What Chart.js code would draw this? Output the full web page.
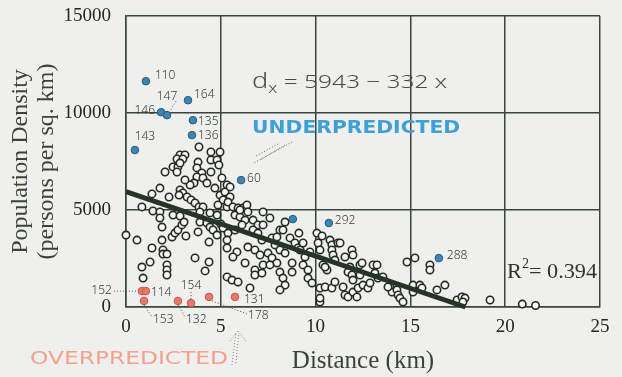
<!DOCTYPE html>
<html>
<head>
<meta charset="utf-8">
<script src="https://cdn.jsdelivr.net/npm/chart.js@4/dist/chart.umd.min.js"></script>
<style>
  html, body { margin: 0; padding: 0; background: #efefed; }
  canvas { display: block; }
</style>
</head>
<body>
<canvas id="densityChart" width="622" height="377"></canvas>
<script>
// census tracts: distance from centre (km) vs population density
const distKm = [
  0.0, 0.58, 0.84, 1.37, 1.42, 1.79, 1.79, 1.79, 1.9, 1.9, 1.37, 1.95, 1.95, 2.16, 1.27, 0.84, 2.16, 2.16, 2.16, 0.9,
  2.06, 2.48, 2.74, 2.69, 2.27, 2.48, 2.85, 2.43, 2.58, 2.74, 2.95, 3.06, 3.16, 2.85, 3.11, 2.69, 3.0, 2.85, 3.85, 4.48,
  4.96, 4.48, 4.8, 3.8, 4.9, 3.74, 4.0, 3.74, 4.06, 4.27, 3.59, 3.38, 4.48, 2.85, 3.0, 3.22, 2.8, 3.43, 3.64, 3.85,
  4.06, 3.9, 4.96, 5.12, 4.85, 5.33, 4.43, 4.8, 3.9, 4.27, 4.43, 4.59, 5.0, 3.8, 4.8, 4.38, 3.64, 4.38, 4.17, 3.11,
  5.33, 5.22, 5.49, 5.38, 5.64, 5.91, 6.17, 6.38, 6.43, 5.75, 6.01, 6.28, 6.12, 5.12, 5.38, 5.75, 5.33, 5.33, 5.85, 5.64,
  6.7, 6.96, 7.23, 7.59, 6.7, 6.96, 7.17, 6.43, 6.8, 7.07, 8.12, 8.28, 7.7, 7.86, 9.12, 8.65, 8.91, 9.07, 8.12, 8.39,
  7.49, 7.7, 7.96, 6.28, 6.8, 6.8, 7.17, 7.23, 7.59, 5.33, 5.59, 5.91, 6.54, 8.12, 8.28, 8.39, 8.12, 8.76, 8.76, 9.34,
  9.6, 9.6, 9.81, 10.23, 9.18, 9.44, 10.07, 10.13, 10.23, 10.39, 10.6, 10.23, 10.5, 5.49, 6.01, 7.23, 8.39, 9.34, 9.7, 7.96,
  5.06, 4.69, 10.76, 10.86, 11.18, 10.86, 10.92, 10.34, 10.5, 11.02, 11.55, 11.92, 11.97, 11.81, 11.71, 11.92, 11.97, 12.34, 12.34, 10.86,
  11.02, 11.45, 11.55, 11.71, 11.97, 12.18, 12.24, 10.23, 13.03, 13.13, 13.29, 13.55, 12.5, 12.76, 12.87, 13.92, 14.03, 14.29, 14.35, 14.45,
  14.61, 14.82, 15.24, 16.03, 16.03, 15.14, 15.14, 15.5, 15.61, 16.4, 16.82, 17.46, 17.72, 17.88, 17.77, 19.2, 20.9, 21.6, 11.29, 12.45,
  13.24, 13.82
];
const density = [
  3710, 3450, 5160, 5830, 4950, 6130, 4900, 4590, 4120, 3450, 3040, 2940, 2730, 2730, 2320, 2060, 2170, 1910, 1650, 1490,
  6960, 7220, 7220, 6960, 5670, 4740, 4690, 3610, 3810, 3970, 4230, 4380, 3660, 7840, 7840, 7630, 7630, 7420, 8250, 7990,
  7990, 7580, 7580, 7470, 7320, 7170, 6910, 6700, 6650, 6390, 6390, 6290, 6960, 6030, 5880, 5670, 5770, 5520, 5360, 5160,
  5160, 4900, 5770, 5520, 5260, 5160, 4850, 4740, 4380, 4330, 4120, 3970, 4280, 3870, 3710, 3350, 2530, 2320, 1860, 6550,
  6290, 5930, 5670, 5410, 5160, 5100, 5100, 5260, 4900, 4740, 4640, 4480, 4230, 4070, 3810, 3970, 3450, 3040, 2840, 2580,
  4480, 4230, 4230, 4590, 3970, 3810, 3450, 3090, 2940, 2680, 3970, 3970, 3560, 3200, 3810, 3560, 3300, 3040, 2940, 2780,
  2780, 2530, 2270, 2270, 1910, 1650, 1750, 2170, 2170, 1550, 1390, 1290, 980, 1800, 1490, 1130, 880, 2270, 1800, 2170,
  1910, 1490, 1240, 260, 2940, 2580, 3810, 3300, 2940, 2170, 1910, 980, 1030, 6190, 5000, 4900, 4380, 3300, 2840, 3610,
  6650, 6130, 3450, 3200, 3300, 2940, 2680, 3660, 2060, 2420, 2580, 2940, 2680, 2060, 1800, 1650, 1390, 2170, 1650, 980,
  1290, 1030, 620, 520, 770, 520, 980, 460, 2170, 1750, 1490, 1550, 1130, 980, 1240, 1030, 770, 880, 620, 460,
  260, 2320, 2530, 2170, 1910, 1130, 770, 1130, 980, 880, 1130, 360, 520, 460, 260, 360, 150, 80, 3300, 2270,
  2170, 1030
];

// tracts the model underpredicts (blue) and overpredicts (red)
const underKm = [1.05, 1.85, 2.16, 3.27, 3.53, 3.48, 0.47, 6.07, 8.8, 10.7, 16.5];
const underDensity = [11640, 10040, 9890, 10660, 9630, 8860, 8090, 6540, 4530, 4330, 2520];
const underIds = ['110', '146', '147', '164', '135', '136', '143', '60', '', '292', '288'];

const overKm = [0.84, 1.05, 0.95, 2.74, 3.43, 4.38, 5.75];
const overDensity = [820, 820, 310, 310, 200, 520, 520];
const overIds = ['152', '114', '153', '132', '154', '178', '131'];

// fitted line d = 5943 - 332 x
const fitKm = [0, 17.9];
const fitDensity = [5943, 0];

const toPoints = (xs, ys) => xs.map((x, i) => ({ x: x, y: ys[i] }));

const inkColor = '#39463a';

// label placement for the numbered tracts: dx, dy, align
const labelStyle = {
  '110': [9, -6, 'left'], '146': [-6, -2, 'right'], '147': [0, -19, 'center'],
  '164': [6, -6, 'left'], '135': [5, 1, 'left'], '136': [6, 0, 'left'],
  '143': [10, -13, 'center'], '60': [6, -2, 'left'], '292': [6, -2, 'left'],
  '288': [8, -3, 'left'], '152': [-30, -1, 'right'], '114': [5, 1, 'left'],
  '153': [9, 19, 'left'], '132': [8, 19, 'left'], '154': [0, -18, 'center'],
  '178': [39, 19, 'left'], '131': [9, 3, 'left']
};
const leaders = {
  '152': [-28, 0, -5, 0], '147': [9, -14, 3, -4], '153': [0, 4, 8, 16],
  '132': [0, 4, 7, 16], '154': [0, -11, 0, -4], '178': [3, 4, 38, 17]
};

function dotted(ctx, x1, y1, x2, y2) {
  ctx.beginPath();
  ctx.moveTo(x1, y1);
  ctx.lineTo(x2, y2);
  ctx.stroke();
}

function fitText(ctx, parts, x, y, width) {
  // parts: [text, font, dy]
  let total = 0;
  parts.forEach(p => { ctx.font = p[1]; total += ctx.measureText(p[0]).width; });
  ctx.save();
  ctx.translate(x, y);
  ctx.scale(width / total, 1);
  let cx = 0;
  parts.forEach(p => {
    ctx.font = p[1];
    ctx.fillText(p[0], cx, p[2]);
    cx += ctx.measureText(p[0]).width;
  });
  ctx.restore();
}

const notesPlugin = {
  id: 'notes',
  beforeDraw(chart) {
    const ctx = chart.ctx;
    ctx.save();
    ctx.fillStyle = '#efefed';
    ctx.fillRect(0, 0, chart.width, chart.height);
    ctx.restore();
  },
  afterDatasetsDraw(chart) {
    const ctx = chart.ctx;
    const xs = chart.scales.x, ys = chart.scales.y;
    ctx.save();

    // numbered tracts
    ctx.fillStyle = '#3a3a34';
    ctx.strokeStyle = '#55554c';
    ctx.lineWidth = 1;
    ctx.textBaseline = 'middle';
    ctx.font = '300 12px "Noto Sans"';
    const marks = [[underKm, underDensity, underIds], [overKm, overDensity, overIds]];
    marks.forEach(([kx, dy, ids]) => {
      ids.forEach((id, i) => {
        if (!id) return;
        const px = xs.getPixelForValue(kx[i]);
        const py = ys.getPixelForValue(dy[i]);
        const s = labelStyle[id];
        ctx.textAlign = s[2];
        ctx.fillText(id, px + s[0], py + s[1]);
        const l = leaders[id];
        if (l) {
          ctx.setLineDash([1, 2]);
          dotted(ctx, px + l[0], py + l[1], px + l[2], py + l[3]);
          ctx.setLineDash([]);
        }
      });
    });

    ctx.textAlign = 'left';
    ctx.textBaseline = 'alphabetic';

    // fitted equation
    ctx.fillStyle = '#4c4a3c';
    fitText(ctx, [
      ['d', '300 21px "Noto Sans"', 0],
      ['x', '300 14px "Noto Sans"', 5],
      [' = 5943 \u2212 332 x', '300 19px "Noto Sans"', 0]
    ], xs.getPixelForValue(6.65), ys.getPixelForValue(11290), 195);

    // R squared
    ctx.fillStyle = '#2e352e';
    ctx.textBaseline = 'middle';
    fitText(ctx, [
      ['R', '22px "Liberation Serif"', 0],
      ['2', '14px "Liberation Serif"', -8],
      ['= 0.394', '22px "Liberation Serif"', 0]
    ], xs.getPixelForValue(20.1), ys.getPixelForValue(1800), 90);

    // hand lettering
    ctx.fillStyle = '#3f9fd8';
    fitText(ctx, [['UNDERPREDICTED', 'bold 18px "DejaVu Sans"', 0]],
      xs.getPixelForValue(6.65), ys.getPixelForValue(9230), 208);
    ctx.fillStyle = '#f4a18e';
    fitText(ctx, [['OVERPREDICTED', '18px "DejaVu Sans"', 0]],
      xs.getPixelForValue(-5.06), ys.getPixelForValue(-2680), 198);

    // dotted arrows
    ctx.strokeStyle = '#6a6a60';
    ctx.setLineDash([1, 2]);
    const ux = xs.getPixelForValue(6.65), uy = ys.getPixelForValue(9230);
    dotted(ctx, ux + 40, uy + 14, ux + 2, uy + 35);
    dotted(ctx, ux + 33, uy + 17, ux + 8, uy + 32);
    dotted(ctx, ux + 26, uy + 16, ux + 4, uy + 28);
    const ox = xs.getPixelForValue(5.9), oy = ys.getPixelForValue(-2680);
    ctx.strokeStyle = '#8a8a70';
    dotted(ctx, ox - 6, oy + 6, ox - 2, oy - 26);
    dotted(ctx, ox - 2, oy + 4, ox + 1, oy - 26);
    dotted(ctx, ox - 8, oy - 18, ox, oy - 28);
    dotted(ctx, ox + 8, oy - 18, ox, oy - 28);
    ctx.restore();
  }
};

new Chart(document.getElementById('densityChart'), {
  type: 'scatter',
  data: {
    datasets: [
      {
        type: 'line',
        label: 'Fit',
        data: toPoints(fitKm, fitDensity),
        borderColor: '#263427',
        borderWidth: 5,
        pointRadius: 0,
        order: 0
      },
      {
        label: 'Underpredicted',
        data: toPoints(underKm, underDensity),
        backgroundColor: '#3c85b4',
        borderColor: '#2b5a7c',
        borderWidth: 1,
        pointRadius: 3.8,
        order: 0
      },
      {
        label: 'Overpredicted',
        data: toPoints(overKm, overDensity),
        backgroundColor: '#e8786a',
        borderColor: '#c45a4e',
        borderWidth: 1,
        pointRadius: 3.8,
        order: 0
      },
      {
        label: 'Tracts',
        data: toPoints(distKm, density),
        backgroundColor: '#f6f6f2',
        borderColor: '#222a22',
        borderWidth: 1.6,
        pointRadius: 3.7,
        order: 1
      }
    ]
  },
  options: {
    responsive: false,
    animation: false,
    clip: false,
    layout: { padding: { top: 16, right: 22, left: 0, bottom: 0 } },
    plugins: { legend: { display: false }, tooltip: { enabled: false } },
    scales: {
      x: {
        type: 'linear',
        min: 0,
        max: 25,
        afterFit: scale => { scale.height = 70; },
        ticks: {
          stepSize: 5,
          padding: 9,
          color: '#222722',
          font: { family: '"Liberation Serif"', size: 19 },
          callback: v => String(v)
        },
        grid: { color: inkColor, lineWidth: 1.5, drawTicks: false },
        border: { color: inkColor, width: 1.5 },
        title: {
          display: true,
          text: 'Distance (km)',
          color: '#3a4436',
          font: { family: '"Liberation Serif"', size: 25 },
          padding: { top: 0, bottom: 1 }
        }
      },
      y: {
        min: 0,
        max: 15000,
        afterFit: scale => {
          scale.width = 126;
          scale.paddingTop = 0;
          scale.paddingBottom = 0;
        },
        ticks: {
          stepSize: 5000,
          padding: 15,
          color: '#222722',
          font: { family: '"Liberation Serif"', size: 19 },
          callback: v => String(v)
        },
        grid: { color: inkColor, lineWidth: 1.5, drawTicks: false },
        border: { color: inkColor, width: 1.5 },
        title: {
          display: true,
          text: ['Population Density', '(persons per sq. km)'],
          color: '#3a4436',
          font: { family: '"Liberation Serif"', size: 24, lineHeight: 1.08 },
          padding: { top: 8, bottom: 0 }
        }
      }
    }
  },
  plugins: [notesPlugin]
});
</script>
</body>
</html>
